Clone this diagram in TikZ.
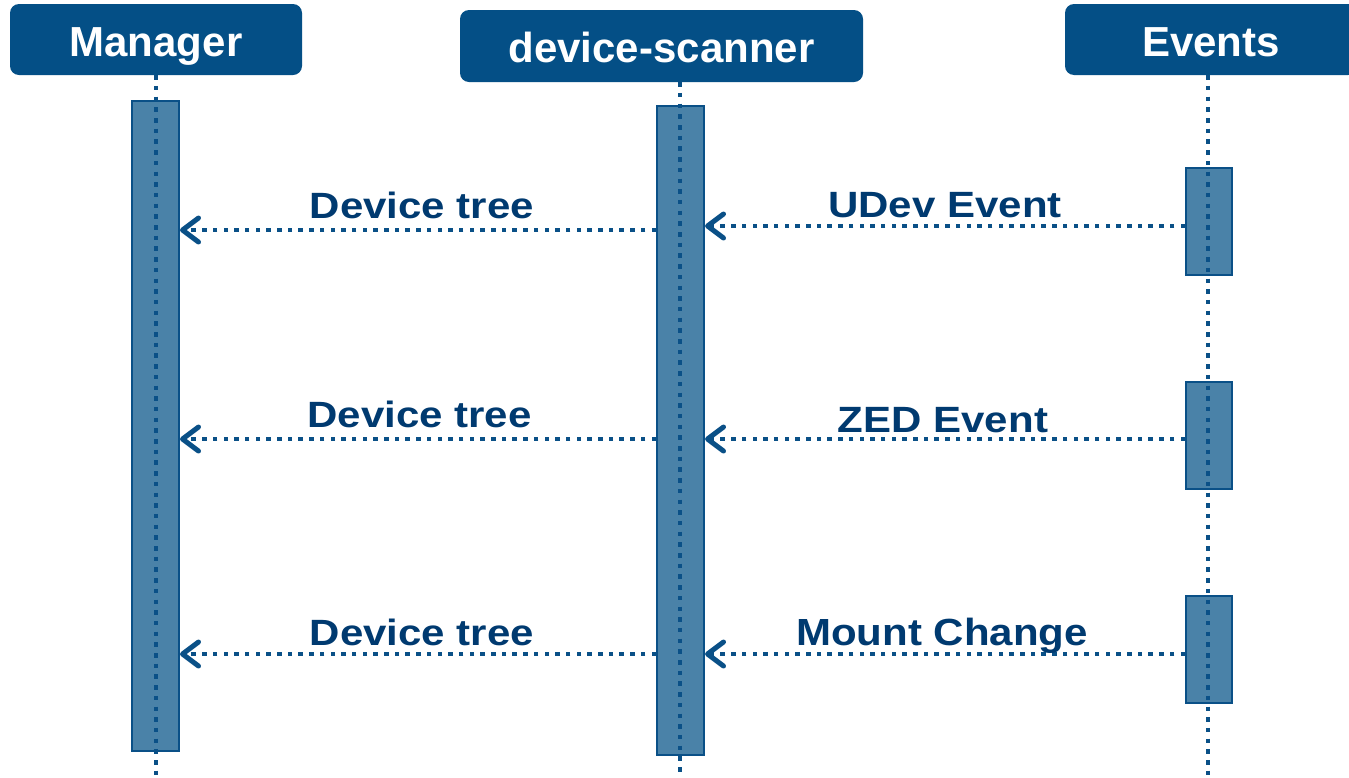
\documentclass[tikz,border=0pt]{standalone}
\usepackage{fontspec}
\setmainfont{Liberation Sans}
\usetikzlibrary{arrows.meta}
\definecolor{hdr}{RGB}{4,79,134}
\definecolor{actfill}{RGB}{74,130,168}
\definecolor{dk}{RGB}{10,80,135}
\definecolor{lbl}{RGB}{0,58,112}
\tikzset{
  header/.style={rectangle, rounded corners=9pt, fill=hdr, text=white,
    font=\fontsize{42}{48}\selectfont\bfseries, minimum width=292pt,
    minimum height=71pt, inner sep=0pt, text height=33pt, text depth=0pt},
  act/.style={rectangle, draw=dk, line width=2pt, fill=actfill, inner sep=0pt},
  life/.style={dk, line width=4.5pt, dash pattern=on 4.5pt off 6.2pt},
  msg/.style={dk, line width=4.5pt, dash pattern=on 4.5pt off 6.2pt,
    -{Straight Barb[length=16pt,width=24pt,line width=5pt,round]}},
  lab/.style={anchor=base, text=lbl, inner sep=0pt,
    font=\fontsize{42}{48}\selectfont\bfseries}
}
\begin{document}
\begin{tikzpicture}[x=1pt,y=-1pt]
\useasboundingbox (0,0) rectangle (1349,777);
\fill[white] (0,0) rectangle (1349,777);
% headers
\node[header] (mgr) at (156,39.5) {Manager};
\node[header, minimum width=403pt, minimum height=72pt] (dsc) at (661.5,46) {device-scanner};
\node[header] (evt) at (1211,39.5) {Events};
% activation boxes
\node[act, minimum width=47pt, minimum height=650pt] (amgr) at (155.5,426) {};
\node[act, minimum width=47pt, minimum height=649pt] (adsc) at (680.5,430.5) {};
\node[act, minimum width=46pt, minimum height=107pt] (ev1) at (1209,221.5) {};
\node[act, minimum width=46pt, minimum height=107pt] (ev2) at (1209,435.5) {};
\node[act, minimum width=46pt, minimum height=107pt] (ev3) at (1209,649.5) {};
% lifeline ends
\coordinate (lmgr) at (156,777);
\coordinate (ldsc) at (680,777);
\coordinate (levt) at (1208,777);
\draw[life] (mgr.south -| lmgr) -- (lmgr);
\draw[life] (dsc.south -| ldsc) -- (ldsc);
\draw[life] (evt.south -| levt) -- (levt);
% messages
\draw[msg] ([yshift=-4.5pt]ev1.west) -- ([yshift=-4.5pt]ev1.west -| adsc.east);
\draw[msg] ([yshift=-8.5pt]ev1.west -| adsc.west) -- ([yshift=-8.5pt]ev1.west -| amgr.east);
\draw[msg] ([yshift=-3.5pt]ev2.west) -- ([yshift=-3.5pt]ev2.west -| adsc.east);
\draw[msg] ([yshift=-3.5pt]ev2.west -| adsc.west) -- ([yshift=-3.5pt]ev2.west -| amgr.east);
\draw[msg] ([yshift=-4.5pt]ev3.west) -- ([yshift=-4.5pt]ev3.west -| adsc.east);
\draw[msg] ([yshift=-4.5pt]ev3.west -| adsc.west) -- ([yshift=-4.5pt]ev3.west -| amgr.east);
% labels
\node[lab] (l1) at (945,217) {\scalebox{1}[0.87]{UDev Event}};
\node[lab] (l2) at (422,218) {\scalebox{1}[0.87]{Device tree}};
\node[lab] (l3) at (943,432) {\scalebox{1}[0.87]{ZED Event}};
\node[lab] (l4) at (419.5,427) {\scalebox{1}[0.87]{Device tree}};
\node[lab] (l5) at (942,645) {\scalebox{1}[0.9]{Mount Change}};
\node[lab] (l6) at (422,645) {\scalebox{1}[0.87]{Device tree}};
\end{tikzpicture}
\end{document}
